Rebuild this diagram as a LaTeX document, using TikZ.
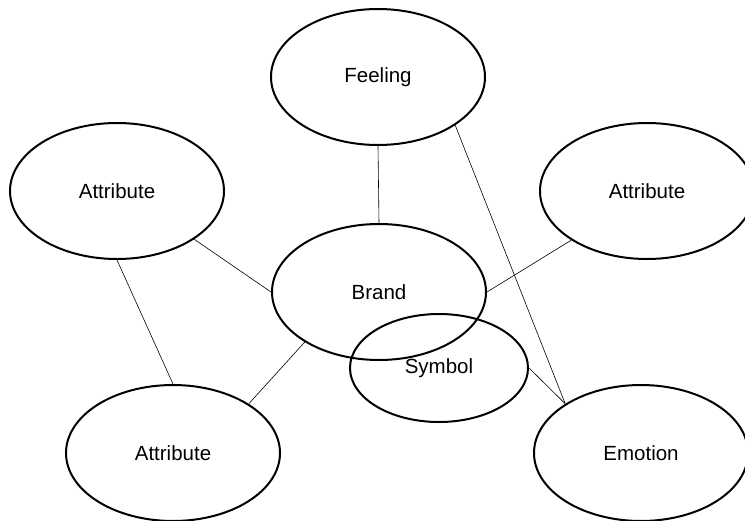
\documentclass[tikz,border=0pt]{standalone}
\usepackage{fontspec}
\setmainfont{Liberation Sans}
\usetikzlibrary{shapes.geometric}

\begin{document}
\begin{tikzpicture}[x=1pt, y=-1pt,
    concept/.style={ellipse, draw, line width=2pt, inner sep=0pt,
      minimum width=214pt, minimum height=136pt,
      font=\fontsize{20.5}{24}\selectfont},
    link/.style={line width=0.6pt}]
      \useasboundingbox (0, 0) rectangle (745, 520);

      \node (feeling) [concept] at (378, 77) {Feeling};
      \node (attrleft) [concept] at (117, 191) {Attribute};
      \node (attrright) [concept] at (647, 191) {Attribute};
      \node (brand) [concept] at (379, 292) {Brand};
      \node (symbol) [concept, minimum width=178pt, minimum height=108pt] at (439, 368) {Symbol};
      \node (attrbottom) [concept] at (173, 453) {Attribute};
      \node (emotion) [concept] at (641, 453) {Emotion};

      \draw[link] (feeling.south) -- (brand.north);
      \draw[link] (feeling.-32) -- (emotion.147);
      \draw[link] (attrleft.-32) -- (brand.west);
      \draw[link] (attrleft.south) -- (attrbottom.north);
      \draw[link] (attrbottom.33) -- (brand.214);
      \draw[link] (attrright.213) -- (brand.east);
      \draw[link] (symbol.east) -- (emotion.147);
    \end{tikzpicture}
\end{document}
